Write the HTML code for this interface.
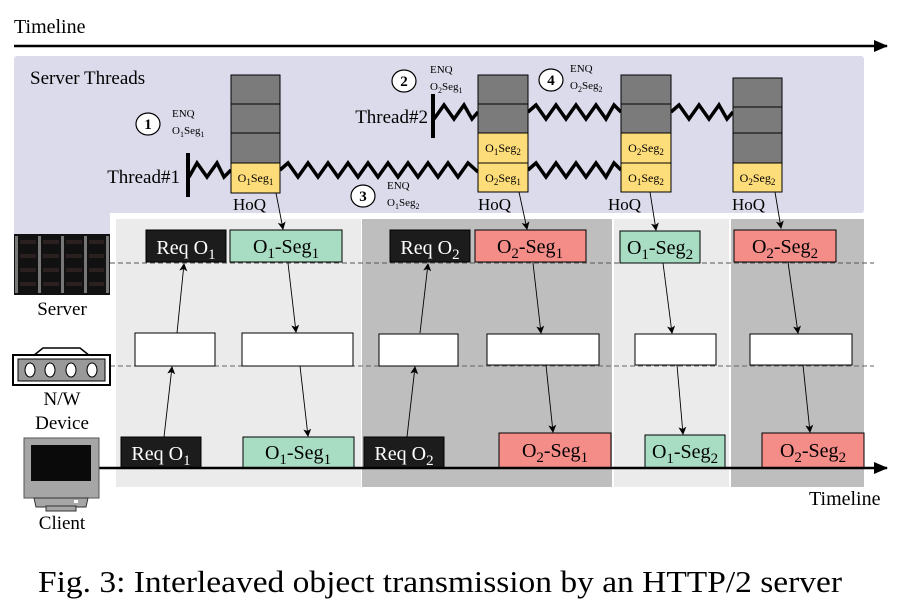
<!DOCTYPE html>
<html><head><meta charset="utf-8"><style>
html,body{margin:0;padding:0;background:#fff;}
svg{display:block;font-family:"Liberation Serif",serif;}
</style></head><body>
<svg width="907" height="613" viewBox="0 0 907 613" xmlns="http://www.w3.org/2000/svg">
<defs>
<marker id="ah" markerWidth="8" markerHeight="8" refX="7" refY="4" orient="auto" markerUnits="userSpaceOnUse">
<path d="M0,0 L8,4 L0,8 L2,4 Z" fill="#000"/>
</marker>
<marker id="big" markerWidth="14" markerHeight="12" refX="13" refY="6" orient="auto" markerUnits="userSpaceOnUse">
<path d="M0,0 L14,6 L0,12 Z" fill="#000"/>
</marker>
</defs>

<!-- top timeline -->
<text x="14" y="33" font-size="20">Timeline</text>
<line x1="14" y1="46" x2="887" y2="46" stroke="#000" stroke-width="2.5" marker-end="url(#big)"/>

<!-- purple server threads area -->
<rect x="14" y="56" width="850" height="157" rx="3" fill="#dcdbeb"/>
<rect x="14" y="200" width="96" height="34" fill="#dcdbeb"/>
<rect x="110" y="213" width="760" height="280" fill="#fff"/>
<text x="30" y="84" font-size="19">Server Threads</text>

<!-- panels -->
<rect x="116" y="219" width="245" height="268" fill="#ebebeb"/>
<rect x="362" y="219" width="250" height="268" fill="#bebebe"/>
<rect x="614" y="219" width="115" height="268" fill="#ebebeb"/>
<rect x="731" y="219" width="133" height="268" fill="#bebebe"/>

<!-- dashed lines -->
<line x1="110" y1="263" x2="874" y2="263" stroke="#555" stroke-dasharray="5,3" stroke-width="1"/>
<line x1="110" y1="366" x2="874" y2="366" stroke="#666" stroke-dasharray="5,3" stroke-width="1"/>

<!-- threads -->
<text x="180" y="183" font-size="19" text-anchor="end">Thread#1</text>
<line x1="188" y1="153" x2="188" y2="197" stroke="#000" stroke-width="4"/>
<g fill="none" stroke="#000" stroke-width="3.5" stroke-linejoin="miter">
<polyline points="189,177 197,163 207,177 217,163 224,177 231,170"/>
<polyline points="280,170 288,163 298,177 308,163 318,177 328,163 338,177 348,163 358,177 368,163 378,177 388,163 398,177 408,163 418,177 428,163 438,177 448,163 458,177 468,163 478,172"/>
<polyline points="528,170 536,163 546,177 556,163 566,177 576,163 586,177 596,163 606,177 614,163 621,170"/>
<polyline points="434,119 444,105 454,119 464,105 472,119 478,112"/>
<polyline points="528,112 536,105 546,119 556,105 566,119 576,105 586,119 596,105 606,119 614,105 621,112"/>
<polyline points="671,112 679,105 689,119 699,105 709,119 719,105 727,119 733,112"/>
</g>

<text x="428" y="123" font-size="19" text-anchor="end">Thread#2</text>
<line x1="433" y1="94" x2="433" y2="138" stroke="#000" stroke-width="4"/>

<!-- stacks -->
<g stroke="#000" stroke-width="1">
<rect x="231" y="75" width="49" height="29" fill="#7b7b7b"/>
<rect x="231" y="104" width="49" height="29" fill="#7b7b7b"/>
<rect x="231" y="133" width="49" height="30" fill="#7b7b7b"/>
<rect x="231" y="163" width="49" height="30" fill="#fddc7a"/>

<rect x="478" y="75" width="50" height="29" fill="#7b7b7b"/>
<rect x="478" y="104" width="50" height="29" fill="#7b7b7b"/>
<rect x="478" y="133" width="50" height="30" fill="#fddc7a"/>
<rect x="478" y="163" width="50" height="29" fill="#fddc7a"/>

<rect x="621" y="75" width="50" height="29" fill="#7b7b7b"/>
<rect x="621" y="104" width="50" height="29" fill="#7b7b7b"/>
<rect x="621" y="133" width="50" height="30" fill="#fddc7a"/>
<rect x="621" y="163" width="50" height="29" fill="#fddc7a"/>

<rect x="733" y="78" width="49" height="29" fill="#7b7b7b"/>
<rect x="733" y="107" width="49" height="26" fill="#7b7b7b"/>
<rect x="733" y="133" width="49" height="30" fill="#7b7b7b"/>
<rect x="733" y="163" width="49" height="29" fill="#fddc7a"/>
</g>
<g font-size="12" text-anchor="middle">
<text x="255.5" y="182">O<tspan font-size="9" dy="3">1</tspan><tspan dy="-3">Seg</tspan><tspan font-size="9" dy="3">1</tspan></text>
<text x="503" y="152">O<tspan font-size="9" dy="3">1</tspan><tspan dy="-3">Seg</tspan><tspan font-size="9" dy="3">2</tspan></text>
<text x="503" y="182">O<tspan font-size="9" dy="3">2</tspan><tspan dy="-3">Seg</tspan><tspan font-size="9" dy="3">1</tspan></text>
<text x="646" y="152">O<tspan font-size="9" dy="3">2</tspan><tspan dy="-3">Seg</tspan><tspan font-size="9" dy="3">2</tspan></text>
<text x="646" y="182">O<tspan font-size="9" dy="3">1</tspan><tspan dy="-3">Seg</tspan><tspan font-size="9" dy="3">2</tspan></text>
<text x="757.5" y="182">O<tspan font-size="9" dy="3">2</tspan><tspan dy="-3">Seg</tspan><tspan font-size="9" dy="3">2</tspan></text>
</g>
<g font-size="17">
<text x="233" y="210">HoQ</text>
<text x="478" y="210">HoQ</text>
<text x="608" y="210">HoQ</text>
<text x="732" y="210">HoQ</text>
</g>

<!-- circles and ENQ labels -->
<g fill="#fff" stroke="#000" stroke-width="1.2">
<ellipse cx="148" cy="124" rx="12" ry="11"/>
<ellipse cx="404" cy="81" rx="12" ry="11"/>
<ellipse cx="363" cy="196" rx="12" ry="11"/>
<ellipse cx="551" cy="80" rx="12" ry="11"/>
</g>
<g font-size="15" font-weight="bold" text-anchor="middle">
<text x="148" y="129">1</text><text x="404" y="86">2</text><text x="363" y="201">3</text><text x="551" y="85">4</text>
</g>
<g font-size="11">
<text x="172" y="117">ENQ</text>
<text x="172" y="134">O<tspan font-size="8" dy="3">1</tspan><tspan dy="-3">Seg</tspan><tspan font-size="8" dy="3">1</tspan></text>
<text x="430" y="73">ENQ</text>
<text x="430" y="90">O<tspan font-size="8" dy="3">2</tspan><tspan dy="-3">Seg</tspan><tspan font-size="8" dy="3">1</tspan></text>
<text x="387" y="189">ENQ</text>
<text x="387" y="206">O<tspan font-size="8" dy="3">1</tspan><tspan dy="-3">Seg</tspan><tspan font-size="8" dy="3">2</tspan></text>
<text x="570" y="72">ENQ</text>
<text x="570" y="89">O<tspan font-size="8" dy="3">2</tspan><tspan dy="-3">Seg</tspan><tspan font-size="8" dy="3">2</tspan></text>
</g>

<!-- HoQ arrows -->
<g stroke="#000" stroke-width="0.9" marker-end="url(#ah)">
<line x1="276" y1="193" x2="283" y2="229"/>
<line x1="519" y1="192" x2="527" y2="229"/>
<line x1="650" y1="192" x2="656" y2="230"/>
<line x1="775" y1="192" x2="781" y2="228"/>
</g>

<!-- top row boxes -->
<g stroke="#000" stroke-width="1">
<rect x="146" y="230" width="80" height="32" fill="#1c1c1c"/>
<rect x="230" y="230" width="112" height="32" fill="#a8dcc3"/>
<rect x="390" y="230" width="80" height="32" fill="#1c1c1c"/>
<rect x="475" y="230" width="111" height="32" fill="#f48c88"/>
<rect x="620" y="231" width="80" height="32" fill="#a8dcc3"/>
<rect x="734" y="230" width="102" height="32" fill="#f48c88"/>
<rect x="135" y="333" width="80" height="33" fill="#fff"/>
<rect x="242" y="333" width="111" height="33" fill="#fff"/>
<rect x="379" y="334" width="79" height="32" fill="#fff"/>
<rect x="487" y="334" width="112" height="31" fill="#fff"/>
<rect x="635" y="334" width="81" height="31" fill="#fff"/>
<rect x="750" y="334" width="102" height="31" fill="#fff"/>
<rect x="121" y="437" width="80" height="31" fill="#1c1c1c"/>
<rect x="243" y="437" width="111" height="31" fill="#a8dcc3"/>
<rect x="364" y="437" width="80" height="31" fill="#1c1c1c"/>
<rect x="499" y="433" width="112" height="35" fill="#f48c88"/>
<rect x="645" y="435" width="80" height="33" fill="#a8dcc3"/>
<rect x="762" y="433" width="102" height="35" fill="#f48c88"/>
</g>

<g font-size="20" text-anchor="middle">
<g fill="#fff">
<text x="186" y="254">Req O<tspan font-size="15" dy="5">1</tspan></text>
<text x="430" y="254">Req O<tspan font-size="15" dy="5">2</tspan></text>
<text x="161" y="460">Req O<tspan font-size="15" dy="5">1</tspan></text>
<text x="404" y="460">Req O<tspan font-size="15" dy="5">2</tspan></text>
</g>
<text x="286" y="253">O<tspan font-size="15" dy="5">1</tspan><tspan dy="-5">-Seg</tspan><tspan font-size="15" dy="5">1</tspan></text>
<text x="530" y="253">O<tspan font-size="15" dy="5">2</tspan><tspan dy="-5">-Seg</tspan><tspan font-size="15" dy="5">1</tspan></text>
<text x="660" y="254">O<tspan font-size="15" dy="5">1</tspan><tspan dy="-5">-Seg</tspan><tspan font-size="15" dy="5">2</tspan></text>
<text x="785" y="253">O<tspan font-size="15" dy="5">2</tspan><tspan dy="-5">-Seg</tspan><tspan font-size="15" dy="5">2</tspan></text>
<text x="298" y="459">O<tspan font-size="15" dy="5">1</tspan><tspan dy="-5">-Seg</tspan><tspan font-size="15" dy="5">1</tspan></text>
<text x="555" y="457">O<tspan font-size="15" dy="5">2</tspan><tspan dy="-5">-Seg</tspan><tspan font-size="15" dy="5">1</tspan></text>
<text x="685" y="458">O<tspan font-size="15" dy="5">1</tspan><tspan dy="-5">-Seg</tspan><tspan font-size="15" dy="5">2</tspan></text>
<text x="813" y="457">O<tspan font-size="15" dy="5">2</tspan><tspan dy="-5">-Seg</tspan><tspan font-size="15" dy="5">2</tspan></text>
</g>

<!-- flow arrows -->
<g stroke="#000" stroke-width="0.9" marker-end="url(#ah)">
<line x1="164" y1="437" x2="172" y2="367"/>
<line x1="177" y1="333" x2="184" y2="264"/>
<line x1="288" y1="263" x2="296" y2="332"/>
<line x1="300" y1="366" x2="308" y2="436"/>
<line x1="407" y1="437" x2="415" y2="367"/>
<line x1="420" y1="333" x2="428" y2="264"/>
<line x1="533" y1="263" x2="541" y2="333"/>
<line x1="546" y1="365" x2="553" y2="432"/>
<line x1="663" y1="263" x2="672" y2="333"/>
<line x1="677" y1="365" x2="683" y2="434"/>
<line x1="788" y1="262" x2="798" y2="333"/>
<line x1="803" y1="365" x2="810" y2="432"/>
</g>

<!-- bottom timeline -->
<line x1="98" y1="468" x2="887" y2="468" stroke="#000" stroke-width="2.5" marker-end="url(#big)"/>
<text x="809" y="505" font-size="20">Timeline</text>

<!-- server icon -->
<rect x="14" y="234" width="96" height="61" fill="#111"/>
<g fill="#777">
<rect x="15" y="236" width="3" height="57"/>
<rect x="38" y="236" width="3" height="57"/>
<rect x="61" y="236" width="3" height="57"/>
<rect x="84" y="236" width="3" height="57"/>
<rect x="106" y="236" width="3" height="57"/>
</g>
<g fill="#2a2020">
<rect x="20" y="240" width="16" height="4"/><rect x="43" y="240" width="16" height="4"/><rect x="66" y="240" width="16" height="4"/><rect x="89" y="240" width="15" height="4"/>
<rect x="20" y="254" width="16" height="4"/><rect x="43" y="254" width="16" height="4"/><rect x="66" y="254" width="16" height="4"/><rect x="89" y="254" width="15" height="4"/>
<rect x="20" y="268" width="16" height="4"/><rect x="43" y="268" width="16" height="4"/><rect x="66" y="268" width="16" height="4"/><rect x="89" y="268" width="15" height="4"/>
<rect x="20" y="282" width="16" height="4"/><rect x="43" y="282" width="16" height="4"/><rect x="66" y="282" width="16" height="4"/><rect x="89" y="282" width="15" height="4"/>
</g>
<text x="62" y="315" font-size="19" text-anchor="middle">Server</text>

<!-- network device -->
<path d="M33,356 L43,348 L80,348 L90,356" fill="none" stroke="#000" stroke-width="1.5"/>
<rect x="13" y="355" width="97" height="30" fill="#fff" stroke="#000" stroke-width="2"/>
<rect x="18" y="359" width="87" height="22" fill="#999" stroke="#000" stroke-width="1"/>
<g fill="#fff" stroke="#000" stroke-width="1">
<ellipse cx="30" cy="370" rx="5" ry="7"/><ellipse cx="50" cy="370" rx="5" ry="7"/>
<ellipse cx="71" cy="370" rx="5" ry="7"/><ellipse cx="92" cy="370" rx="5" ry="7"/>
</g>
<text x="62" y="405" font-size="19" text-anchor="middle">N/W</text>
<text x="62" y="429" font-size="19" text-anchor="middle">Device</text>

<!-- client monitor -->
<rect x="24" y="438" width="75" height="60" fill="#a6a6a6" stroke="#555" stroke-width="1"/>
<rect x="31" y="445" width="60" height="36" fill="#0a0a0a"/>
<path d="M34,498 L88,498 L86,507 L36,507 Z" fill="#a6a6a6" stroke="#333" stroke-width="1"/>
<rect x="46" y="506" width="30" height="5" fill="#a6a6a6" stroke="#333" stroke-width="1"/>
<rect x="74" y="500" width="4" height="3" fill="#fff"/>
<text x="62" y="529" font-size="19" text-anchor="middle">Client</text>

<!-- caption -->
<text x="38" y="592" font-size="31" textLength="804" lengthAdjust="spacingAndGlyphs">Fig. 3: Interleaved object transmission by an HTTP/2 server</text>
</svg>
</body></html>
